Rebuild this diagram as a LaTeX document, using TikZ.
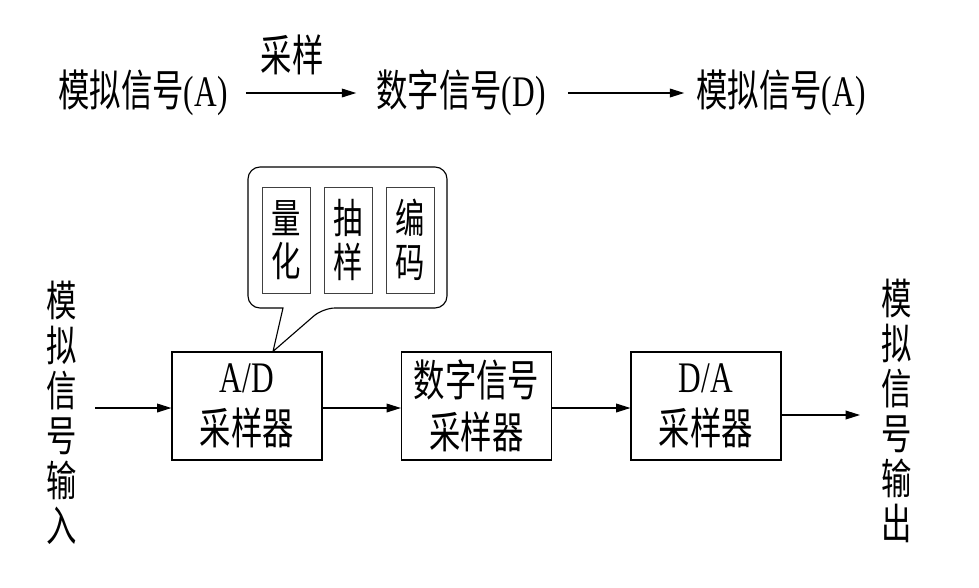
\documentclass[tikz,border=0pt]{standalone}
\usepackage{fontspec}
\setmainfont[FakeStretch=0.72]{Liberation Serif}
\newfontfamily\cjk[FakeStretch=0.72]{Noto Sans CJK SC}
\usetikzlibrary{arrows.meta}

\begin{document}
\begin{tikzpicture}[x=0.025cm, y=-0.025cm,
        sig/.style={-{Triangle[length=0.36cm,width=0.22cm]}, line width=0.8pt},
        sigtext/.style={inner sep=0pt, font=\cjk\fontsize{31}{34}\selectfont},
        vlabel/.style={inner sep=0pt, align=center, font=\cjk\fontsize{30}{32}\selectfont},
        blockbox/.style={draw, line width=0.8pt, minimum width=3.75cm, minimum height=2.7cm, inner sep=0pt, align=center, font=\cjk\fontsize{31}{37}\selectfont},
        subbox/.style={draw=black!75, line width=0.7pt, minimum width=1.2cm, minimum height=2.65cm, inner sep=0pt, align=center, font=\cjk\fontsize{29}{31}\selectfont}]
    \useasboundingbox (0,0) rectangle (979,587);

    \node[sigtext] (a1) at (143,93) {模拟信号\textrm{(A)}};
    \node[sigtext] (d1) at (461,93) {数字信号\textrm{(D)}};
    \node[sigtext] (a2) at (781,93) {模拟信号\textrm{(A)}};
    \node[sigtext] (caiyang) at (292,55) {采样};
    \draw[sig, shorten <=0.45cm, shorten >=0.5cm] (a1) -- (d1);
    \draw[sig, shorten <=0.55cm, shorten >=0.3cm] (d1) -- (a2);

    \node[vlabel] (inl) at (62,413) {模\\拟\\信\\号\\输\\入};
    \node[vlabel] (outl) at (897,411) {模\\拟\\信\\号\\输\\出};

    \node[blockbox] (ad) at (247,406) {\textrm{A/D}\\采样器};
    \node[blockbox] (ds) at (476.5,406) {数字信号\\采样器};
    \node[blockbox] (da) at (706,406) {\textrm{D/A}\\采样器};

    \coordinate (sigin) at (95,408);
    \coordinate (sigout) at (860,415);
    \draw[sig] (sigin) -- (sigin -| ad.west);
    \draw[sig] (ad.east |- sigin) -- (ds.west |- sigin);
    \draw[sig] (ds.east |- sigin) -- (da.west |- sigin);
    \draw[sig] (da.east |- sigout) -- (sigout);

    \coordinate (tip) at ([xshift=0.65cm]ad.north);
    \draw[line width=0.8pt] (tip) -- (283,308) [rounded corners=0.3cm] -- (248,308) -- (248,167) -- (447,167) -- (447,308) -- (323,308) [sharp corners] -- cycle;

    \node[subbox] (lianghua) at (286,240) {量\\化};
    \node[subbox] (chouyang) at (348.5,240) {抽\\样};
    \node[subbox] (bianma) at (410,240) {编\\码};
\end{tikzpicture}
\end{document}
